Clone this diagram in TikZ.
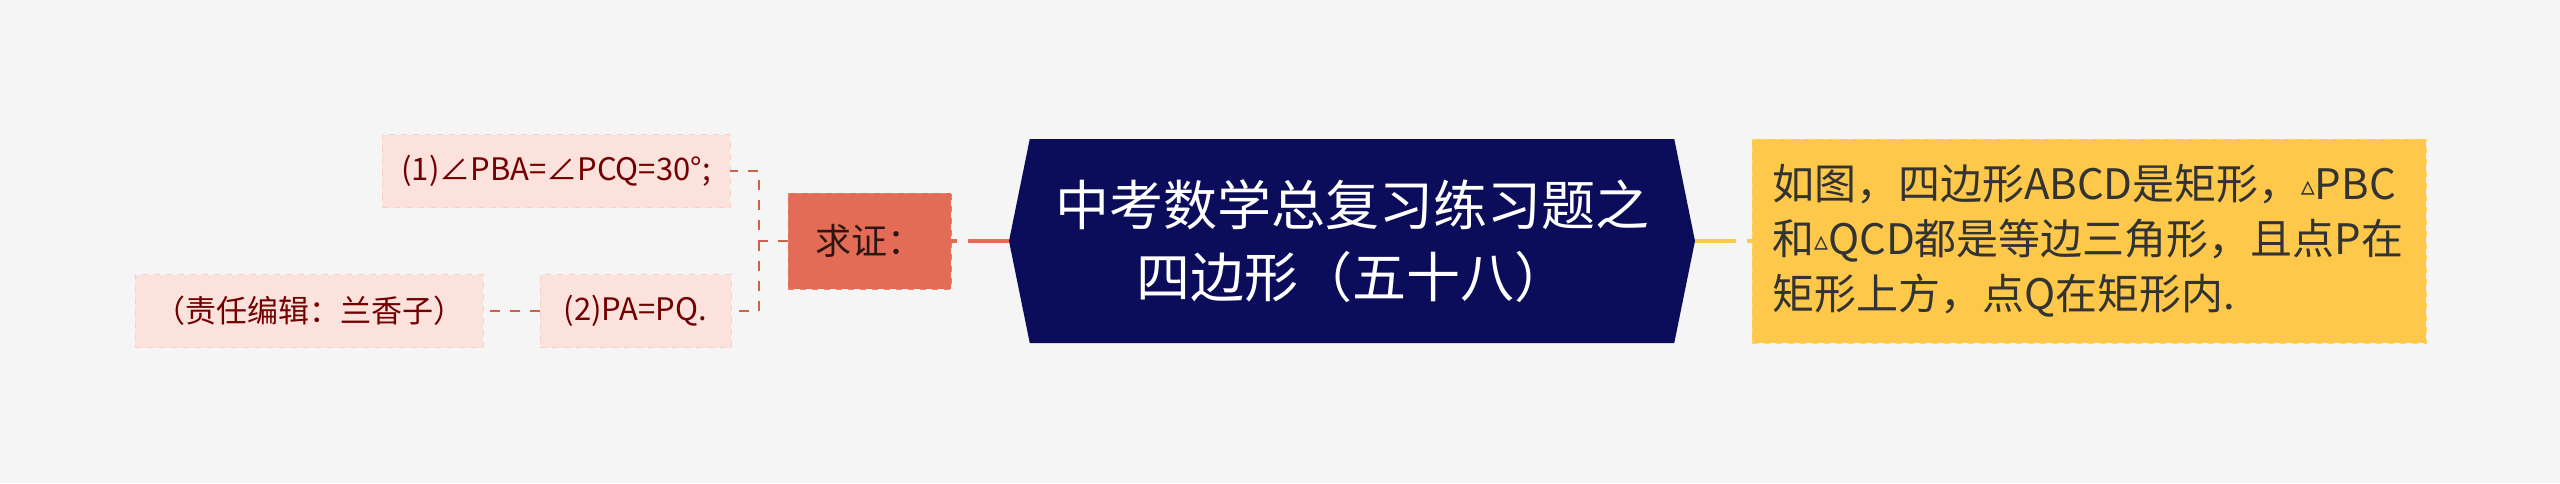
\documentclass[tikz,border=0pt]{standalone}
\usepackage{fontspec}
\setmainfont{Noto Sans CJK SC}
\newfontfamily\symfont{DejaVu Sans}
\usetikzlibrary{shapes.symbols}
\definecolor{bg}{HTML}{F5F5F5}
\definecolor{navy}{HTML}{0B0D5B}
\definecolor{brick}{HTML}{E36C57}
\definecolor{blush}{HTML}{FBE2DC}
\definecolor{gold}{HTML}{FEC94B}
\newcommand{\tri}{\raisebox{2pt}{\symfont\fontsize{14pt}{14pt}\selectfont ▵}}
\tikzset{
  root/.style={shape=signal, signal to=west and east, signal pointer angle=157, fill=navy,
    minimum width=343pt, minimum height=102pt, inner sep=0pt, text=white, align=center,
    font=\fontsize{27pt}{36pt}\selectfont},
  aside/.style={fill=gold, draw=gold!80!white, dashed, minimum width=337pt, minimum height=102pt,
    text width=317pt, inner xsep=10pt, inner ysep=0pt, text=black!80, align=left,
    font=\fontsize{21pt}{27.5pt}\selectfont},
  proof/.style={fill=brick, draw=brick!85!white, dashed, minimum width=81.5pt, minimum height=48pt,
    inner sep=0pt, text=black!80!brick, font=\fontsize{18pt}{20pt}\selectfont},
  proof item/.style={fill=blush, draw=blush!85!brick, dashed, minimum height=36.5pt,
    inner sep=0pt, text=red!45!black, font=\fontsize{15.5pt}{18pt}\selectfont},
  link/.style={line width=2pt, dash pattern=on 20.5pt off 5.5pt},
  twig/.style={line width=1pt, brick!90!black, dash pattern=on 5pt off 5pt}
}
\begin{document}
\begin{tikzpicture}[x=0.5pt, y=-0.5pt]
  \fill[bg] (0,0) rectangle (2560,483);
  \useasboundingbox (0,0) rectangle (2560,483);

  \node[root] at (1352,241) (main) {中考数学总复习练习题之\\四边形（五十八）};

  \node[aside] at (2089,241) (given) {如图，四边形ABCD是矩形，\tri PBC\\
    和\tri QCD都是等边三角形，且点P在\\矩形上方，点Q在矩形内.};

  \node[proof] at (869.5,241) (prove) {求证：};

  \node[proof item, minimum width=174pt] at (556,171) (item one) {(1)∠PBA=∠PCQ=30°;};
  \node[proof item, minimum width=95.5pt] at (635.5,311) (item two) {(2)PA=PQ.};
  \node[proof item, minimum width=174pt] at (309,311) (editor) {（责任编辑：兰香子）};

  \coordinate (fork) at (759,241);

  \draw[link, brick] (main.west) -- (prove.east);
  \draw[link, gold] (main.east) -- (given.west);
  \draw[twig] (prove.west) -- (fork) |- (item one.east);
  \draw[twig] (fork) |- (item two.east);
  \draw[twig] (item two.west) -- (editor.east);
\end{tikzpicture}
\end{document}
